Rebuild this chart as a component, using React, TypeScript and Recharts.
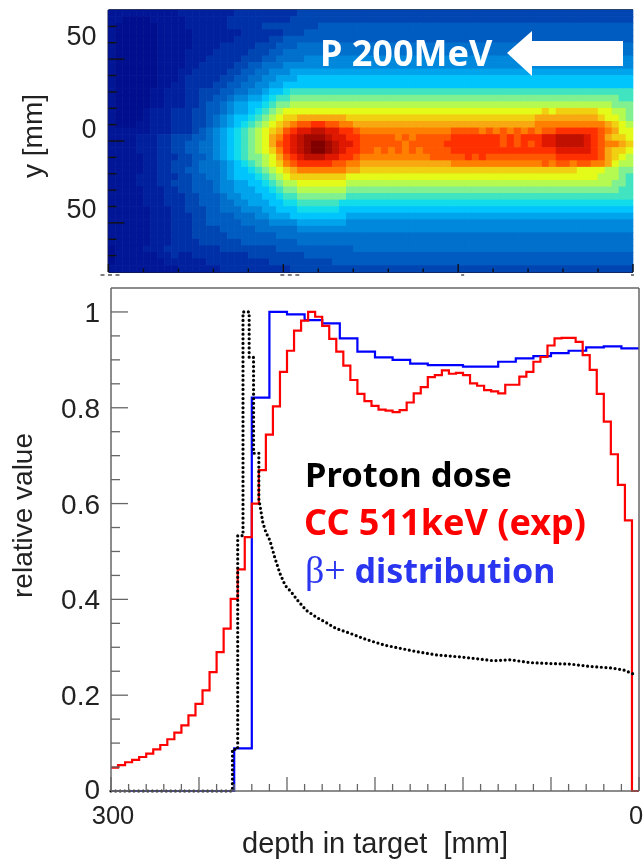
import React from 'react';
import { ScatterChart, Scatter, LineChart, Line, XAxis, YAxis } from 'recharts';

// palette of the heat map, one colour per letter of the rows below
const heatLevels = 'abcdefghijklmnopqrstuvwx';
const heatColors = [
  '#000f8e', '#001696', '#00209e', '#0030a8', '#0046b2', '#005cc0', '#0070cc', '#0088dc',
  '#00a4ec', '#00c4fc', '#10dcec', '#40e4c0', '#80f090', '#b4fa50', '#e4fa18', '#f0d010',
  '#f8a810', '#ff8000', '#ff5800', '#ff3000', '#e01800', '#c01000', '#a00800', '#800000',
];

// 75 columns (depth 300 -> 0) by 40 rows (y 80 -> -80)
const heatRows = [
  'bbbbb bbbbb ccccc cccdd ddddd ddeee eeeee eeeee eeeee eeeee eeeee eeeee eeeee eeeee eeeee',
  'bbaaa abbbb bcccc ccddd ddddd deeee eeeee eeeee eeeee eeeee eeeee eeeee eeeee eeeee eeeee',
  'baaaa aabbb bcccc ccddd ddeee eeeee fffff fffff fffff fffff fffff fffff fffff fffff fffff',
  'baaaa aabbb bbccc ccccd ddddd eeeff fffff fffff fffff fffff fffff fffff fffff fffff fffff',
  'baaaa aabbb bbccc cccdd dddee fffff fffff fffff fffff fffff fffff fffff fffff fffff fffff',
  'baaaa aabbb bbccc cdddd deeef ffggg ggggg ggggg ggggg ggggg ggggg ggggg ggggg ggggg ggggg',
  'baaaa aabbb bcccc ddddd eeeff ggggg ggggg ggggg ggggg ggggg ggggg ggggg ggggg ggggg ggggg',
  'baaaa aabbb bcccd dddde eeffg ggghh hhhhh hhhhh hhhhh hhhhh hhhhh hhhhh hhhhh hhhhh hhhhh',
  'baaaa aabbb bccdd dddee ffggg hhhhh hhhhh hhhhh hhhhh hhhhh hhhhh hhhhh hhhhh hhhhh hhhhh',
  'baaaa aabbb ccddd ddeef fgghh hiiii iiiii iiiii iiiii iiiii iiiii iiiii iiiii iiiii iiiii',
  'baaaa aabbb cdddd deeff gghhi iijjj jjjjj jjjjj jjjjj jjjjj jjjjj jjjjj jjjjj jjjjj jjjjj',
  'baaaa aabbc cdddd eeffg ghhii jjjjj jjjjj jjjjj jjjjj jjjjj jjjjj jjjjj jjjjj jjjjj jjjjj',
  'baaaa abbcc cddee effgg hhijj kllll lllll lllll lllll lllll lllll lllll lllll lllll lllll',
  'baaaa abbcc cddee ffghh iijkl lmmmm mmmmm mmmmm mmmmm mmmmm mmmmm mmmmm mmmmm mmmmm mmmll',
  'baaaa abbcc cddef fghii jjklm mnnnn nnnnn nnnnn nnnnn nnnnn nnnnn nnnnn nnnnn nnnnn nnmmm',
  'baaaa bcccd ddeef fghii jklmn ooooo ooooo ooooo ooooo ooooo ooooo ooooo oopop ppppp oonnm',
  'baaaa bcccd ddeef ghijj klmno ppqqq qqqqp ppppp ppppp ppppp ppppp ppppp pqqqq qqqqq poonm',
  'baaab bcccd ddeef ghijk lmnop qrsst tssrr qqqqq qqqqq qqqqq qqqqq qqqqq qrrrr rrrrr rqpon',
  'bbbbb bcccd ddefg hijkl mnopq stuuv vuutt srrrr rrrrr rrrrs sssrs rsrsr srsst ttttt srqoo',
  'bbbbc ccdde eeffg hijkl mnoqr tuvww wvuut tssss srsrs sssst ttttt tstst ttuuv vvvut sqppo',
  'bbbbc ccdde effgg hijkl mnoqs tuvwx xwvuu tssss ssrss ssstt ttttt tstst stuuv vvvut srrqp',
  'bbbbc ccdde effgg hijkl mnopr tuvwx xwvut tssrs rsrsr sssst ttttt ttttt ttttu uuuut sqppo',
  'bbbbb ccddd eeffg hijkl mmnoq stuvv vuutt srrrr rrrrr rssss ststs sssss sssst ttttt sqpon',
  'bbbbb ccdde eefgg ghijk lmnop rsttt ttssr rqqqq qqqqq qqqqr rrrrr rrrrr rrsrs srssr rqonn',
  'bbbbb ccdde effgg ghijj klmno pqrrr rrrrq qpppp ppppp ppppp ppppp ppppp ppppp ppooo onnmm',
  'bbbbc ccddd eeffg ghijj jklmn opppp ppppo ooooo ooooo ooooo ooooo ooooo ooooo ooooo nnnml',
  'bbbbc ccdde eefff ghhii jjklm nnooo oooon nnnnn nnnnn nnnnn nnnnn nnnnn nnnnn nnnnn nnmml',
  'bbbbb cccdd eefff ghhii ijjkl mmnnn nnnnm mmmmm mmmmm mmmmm mmmmm mmmmm mmmmm mmmmm mmmll',
  'bbbbb cccdd deeff fghhi iijjk llmmm mmmml lllll lllll lllll lllll lllll lllll lllll lllll',
  'bbbbb cccdd deeff fgghh iiijj kklll lllkk kkkkk kkkkk kkkkk kkkkk kkkkk kkkkk kkkkk kkkkk',
  'bbbbb bcccd deeef fgggh hhiij jjkkk kkkjj jjjjj jjjjj jjjjj jjjjj jjjjj jjjjj jjjjj jjjjj',
  'bbbbb bcccd ddeef fffgg ghhii ijjjj jjjji iiiii iiiii iiiii iiiii iiiii iiiii iiiii iiiii',
  'bbbbb bcccd ddeef ffffg ggghh hhiii iiiih hhhhh hhhhh hhhhh hhhhh hhhhh hhhhh hhhhh hhhhh',
  'bbbbb bcccd ddeee effff fgggg gghhh hhhhh hhhhh hhhhh hhhhh hhhhh hhhhh hhhhh hhhhh hhhhh',
  'bbbbb bcccd ddeee eefff ffffg ggggg ggggg ggggg ggggg ggggg ggggg ggggg ggggg ggggg ggggg',
  'bbbbb bcccd dddee eeeef fffff ffggg ggggg ggggg ggggg ggggg ggggg ggggg ggggg ggggg ggggg',
  'abbbb cccdd ddddd deeee eeeef fffff fffff ggggg ggggg ggggg ggggg ggggg ggggg ggggg ggggg',
  'abbbb bbccd ccddd ddddd eeeee eeeff fffff fffff fffff fffff fffff fffff fffff fffff fffff',
  'abbbb bbbcc ccccd ddddd dddee eeeee eefff fffff fffff fffff fffff fffff fffff fffff fffff',
  'bbbbb bbbbb ccccc cdddd ddddd deeee eeeee eeeee eeeee eeeee eeeee eeeee eeeee eeeee eeeee',
];

const heatDepthTicks = [300, 280, 260, 240, 220, 200, 180, 160, 140, 120, 100, 80, 60, 40, 20, 0];
const heatYTicks = [70, 60, 50, 40, 30, 20, 10, 0, -10, -20, -30, -40, -50, -60, -70];
// the y labels sit above their ticks in the original
const heatYLabelSpots = [65, 8, -41];
const heatYLabelTexts = ['50', '0', '50'];

// 4 mm bins, depth 300 -> 0
const redValues = [
  0.049, 0.054, 0.06, 0.065, 0.071, 0.078, 0.087, 0.096, 0.108, 0.122, 0.137, 0.158, 0.182, 0.21, 0.248,
  0.29, 0.339, 0.401, 0.4625, 0.53, 0.6, 0.67, 0.744, 0.803, 0.875, 0.919, 0.961, 0.982, 1.0, 0.99,
  0.971, 0.944, 0.917, 0.888, 0.858, 0.829, 0.814, 0.804, 0.796, 0.794, 0.791, 0.795, 0.811, 0.83, 0.843,
  0.864, 0.868, 0.878, 0.871, 0.873, 0.868, 0.851, 0.846, 0.837, 0.834, 0.83, 0.848, 0.848, 0.865, 0.875,
  0.896, 0.906, 0.93, 0.945, 0.946, 0.946, 0.9375, 0.91, 0.879, 0.829, 0.771, 0.703, 0.639, 0.565, 0,
];

// 10 mm bins, depth 300 -> 0
const blueValues = [
  0, 0, 0, 0, 0, 0, 0, 0.089, 0.821, 1.0, 0.995, 0.983, 0.976, 0.945, 0.917,
  0.905, 0.9, 0.892, 0.889, 0.889, 0.886, 0.886, 0.896, 0.903, 0.908, 0.914, 0.919, 0.926, 0.928, 0.924,
];

const doseDepths = [
  300, 231, 231, 228, 228, 225, 225, 221.5, 221.5, 219, 219, 216, 216, 213.7, 212, 209.7, 207, 204, 201, 197.5, 194,
  189, 183, 177.5, 172, 164, 157, 153, 144, 134.5, 125, 115, 102, 92, 83, 73, 62, 50, 39, 28, 16.5, 9, 3,
];
const doseValues = [
  0, 0, 0.087, 0.087, 0.533, 0.533, 1.0, 1.0, 0.905, 0.905, 0.705, 0.705, 0.61, 0.56, 0.54, 0.523, 0.488, 0.454, 0.429, 0.415, 0.398,
  0.377, 0.362, 0.351, 0.339, 0.329, 0.319, 0.314, 0.304, 0.297, 0.29, 0.284, 0.28, 0.276, 0.272, 0.274, 0.268, 0.266, 0.265, 0.26, 0.257, 0.253, 0.244,
];

const depthTicks = [
  300, 290, 280, 270, 260, 250, 240, 230, 220, 210, 200, 190, 180, 170, 160, 150,
  140, 130, 120, 110, 100, 90, 80, 70, 60, 50, 40, 30, 20, 10, 0,
];
const depthLabels = [300, 0];
const valueTicks = [
  0, 0.05, 0.1, 0.15, 0.2, 0.25, 0.3, 0.35, 0.4, 0.45, 0.5, 0.55, 0.6, 0.65, 0.7, 0.75, 0.8, 0.85, 0.9, 0.95, 1,
];

const heatCells = heatRows.flatMap((row, r) =>
  row.replace(/ /g, '').split('').map((ch, c) => ({
    depth: 298 - 4 * c,
    y: 78 - 4 * r,
    level: heatLevels.indexOf(ch),
  })),
);
const redData = [...redValues, 0].map((value, i) => ({ depth: 300 - 4 * i, value }));
const blueData = [...blueValues, 0.924].map((value, i) => ({ depth: 300 - 10 * i, value }));
const doseData = doseDepths.map((depth, i) => ({ depth, value: doseValues[i] }));

const AXIS_FONT = '"Liberation Sans", Arial, sans-serif';
const TEXT_FONT = '"Noto Sans", sans-serif';
const INK = '#222';
const FRAME = '#666';

const HeatCell = (props: any) => (
  <rect
    x={props.cx - 3.8}
    y={props.cy - 3.6}
    width={7.6}
    height={7.2}
    fill={heatColors[props.payload.level]}
  />
);

// the cut-off tops of the depth labels under the map: [offset from tick, width]
const heatStubs: Record<number, number[]> = { 300: [-8, 21], 200: [-3, 19], 100: [3, 3], 0: [-2, 3] };

// ticks point into the plot, so they are drawn by hand in the tick renderers
const heatBottomTick = ({ x, y, payload }: any) => {
  const stub = heatStubs[payload.value];
  return (
    <g>
      <line x1={x} x2={x} y1={y} y2={y - (payload.value % 100 === 0 ? 8 : 3.5)} stroke="#111" strokeWidth={1.4} />
      {stub && (
        <line x1={x + stub[0]} x2={x + stub[0] + stub[1]} y1={y + 3} y2={y + 3} stroke="#555" strokeWidth={1.5} strokeDasharray={stub[1] > 3 ? '4 3.5' : undefined} />
      )}
    </g>
  );
};
const heatTopTick = ({ x, y, payload }: any) => (
  <line x1={x} x2={x} y1={y} y2={y + (payload.value % 100 === 0 ? 8 : 4)} stroke="#111" strokeWidth={1.4} />
);
const heatLeftTick = ({ x, y, payload }: any) => {
  const spot = heatYLabelSpots.indexOf(payload.value);
  if (spot >= 0) {
    return <text x={x - 12} y={y + 10} textAnchor="end" fontFamily={AXIS_FONT} fontSize={27} fill={INK}>{heatYLabelTexts[spot]}</text>;
  }
  return <line x1={x} x2={x + (payload.value % 50 === 0 ? 16 : 8)} y1={y} y2={y} stroke="#111" strokeWidth={1.4} />;
};
const heatRightTick = ({ x, y, payload }: any) => (
  <line x1={x} x2={x - (payload.value % 50 === 0 ? 11 : 4)} y1={y} y2={y} stroke="#111" strokeWidth={1.4} />
);
const depthBottomTick = ({ x, y, payload }: any) => (
  <g>
    <line x1={x} x2={x} y1={y} y2={y - (payload.value % 50 === 0 ? 14 : 7)} stroke={FRAME} strokeWidth={1.3} />
    {depthLabels.includes(payload.value) && (
      <text x={payload.value === 0 ? x - 3 : x + 2} y={y + 33} textAnchor="middle" fontFamily={AXIS_FONT} fontSize={25.5} fill={INK}>{payload.value}</text>
    )}
  </g>
);
const valueLeftTick = ({ x, y, index, payload }: any) => (
  <g>
    <line x1={x} x2={x + (index % 4 === 0 ? 17 : 9)} y1={y} y2={y} stroke={FRAME} strokeWidth={1.3} />
    {index % 4 === 0 && (
      <text x={x - 11} y={index === 0 ? y + 8 : y + 10} textAnchor="end" fontFamily={AXIS_FONT} fontSize={28} fill={INK}>{+payload.value.toFixed(1)}</text>
    )}
  </g>
);

export default function App() {
  return (
    <div style={{ position: 'absolute', left: 0, top: 0, width: 644, height: 861, overflow: 'hidden', background: '#fff', filter: 'blur(0.4px)' }}>
      <style>{'.recharts-scatter { filter: blur(0.7px); }'}</style>
      <div style={{ position: 'absolute', left: 0, top: 0 }}>
        <ScatterChart width={644} height={300} margin={{ top: 9, right: 10, bottom: 27, left: 107.5 }}>
          <Scatter data={heatCells} dataKey="y" shape={HeatCell} isAnimationActive={false} />
          <XAxis
            type="number"
            dataKey="depth"
            domain={[0, 300]}
            reversed
            height={1}
            ticks={heatDepthTicks}
            interval={0}
            tickLine={false}
            tickSize={0}
            tickMargin={0}
            axisLine={{ stroke: '#1a1a3a', strokeWidth: 2 }}
            tick={heatBottomTick}
          />
          <XAxis xAxisId="top" orientation="top" type="number" domain={[0, 300]} reversed height={1} ticks={heatDepthTicks} interval={0} tickLine={false} tickSize={0} tickMargin={0} axisLine={{ stroke: '#444', strokeWidth: 2 }} tick={heatTopTick} />
          <YAxis
            type="number"
            dataKey="y"
            domain={[-80, 80]}
            width={1}
            ticks={[...heatYLabelSpots, ...heatYTicks]}
            interval={0}
            tickLine={false}
            tickSize={0}
            tickMargin={0}
            axisLine={{ stroke: '#1a1a3a', strokeWidth: 2 }}
            tick={heatLeftTick}
            label={{ value: 'y [mm]', angle: -90, position: 'center', dx: -76, dy: -5, style: { fontFamily: AXIS_FONT, fontSize: 28, fill: INK } }}
          />
          <YAxis yAxisId="right" orientation="right" type="number" domain={[-80, 80]} width={1} ticks={heatYTicks} interval={0} tickLine={false} tickSize={0} tickMargin={0} axisLine={false} tick={heatRightTick} />
        </ScatterChart>
      </div>

      <div style={{ position: 'absolute', left: 320, top: 28, fontFamily: TEXT_FONT, fontWeight: 700, fontSize: 36, lineHeight: '50px', color: '#fff', whiteSpace: 'nowrap' }}>
        P 200MeV
      </div>
      <svg style={{ position: 'absolute', left: 500, top: 25 }} width={130} height={58}>
        <polygon points="7,28 32,6 32,16 123,16 123,41 32,41 32,51" fill="#fff" />
      </svg>

      <div style={{ position: 'absolute', left: 0, top: 276, background: '#fff' }}>
        <LineChart width={644} height={585} margin={{ top: 11, right: 4, bottom: 69, left: 110 }}>
          <XAxis
            type="number"
            dataKey="depth"
            domain={[0, 300]}
            reversed
            height={1}
            ticks={depthTicks}
            interval={0}
            tickLine={false}
            tickSize={0}
            tickMargin={0}
            axisLine={{ stroke: FRAME, strokeWidth: 1.5 }}
            tick={depthBottomTick}
            label={{ value: 'depth in target\u00a0\u00a0[mm]', position: 'center', dy: 51, dx: 0, style: { fontFamily: AXIS_FONT, fontSize: 29, fill: INK } }}
          />
          <XAxis xAxisId="top" orientation="top" type="number" domain={[0, 300]} reversed height={1} ticks={[150]} tick={false} tickLine={false} axisLine={{ stroke: FRAME, strokeWidth: 1.5 }} />
          <YAxis
            type="number"
            domain={[0, 1.05]}
            width={1}
            ticks={valueTicks}
            interval={0}
            tickLine={false}
            tickSize={0}
            tickMargin={0}
            axisLine={{ stroke: FRAME, strokeWidth: 1.5 }}
            tick={valueLeftTick}
            label={{ value: 'relative value', angle: -90, position: 'center', dx: -88, dy: -24, style: { fontFamily: AXIS_FONT, fontSize: 28, fill: INK } }}
          />
          <YAxis yAxisId="right" orientation="right" type="number" domain={[0, 1.05]} width={1} ticks={[0.5]} tick={false} tickLine={false} axisLine={{ stroke: FRAME, strokeWidth: 1.5 }} />
          <Line data={blueData} dataKey="value" type="stepAfter" stroke="#0000ff" strokeWidth={2.2} dot={false} isAnimationActive={false} />
          <Line data={redData} dataKey="value" type="stepAfter" stroke="#ff0000" strokeWidth={2.2} dot={false} isAnimationActive={false} />
          <Line data={doseData} dataKey="value" type="linear" stroke="#000" strokeWidth={3.2} strokeLinecap="round" strokeDasharray="0 4.6" dot={false} isAnimationActive={false} />
        </LineChart>
      </div>

      <div style={{ position: 'absolute', left: 305, top: 451, fontFamily: TEXT_FONT, fontWeight: 700, fontSize: 34.5, lineHeight: '46px', color: '#000', whiteSpace: 'nowrap' }}>
        Proton dose
      </div>
      <div style={{ position: 'absolute', left: 304, top: 499, fontFamily: TEXT_FONT, fontWeight: 700, fontSize: 36, lineHeight: '46px', color: '#ff0000', whiteSpace: 'nowrap' }}>
        CC 511keV (exp)
      </div>
      <div style={{ position: 'absolute', left: 305, top: 547, fontFamily: TEXT_FONT, fontWeight: 700, fontSize: 34, lineHeight: '46px', color: '#2a35f0', whiteSpace: 'nowrap' }}>
        <span style={{ fontFamily: '"Liberation Serif", serif', fontWeight: 400, fontSize: 38 }}>β+</span> distribution
      </div>
    </div>
  );
}
